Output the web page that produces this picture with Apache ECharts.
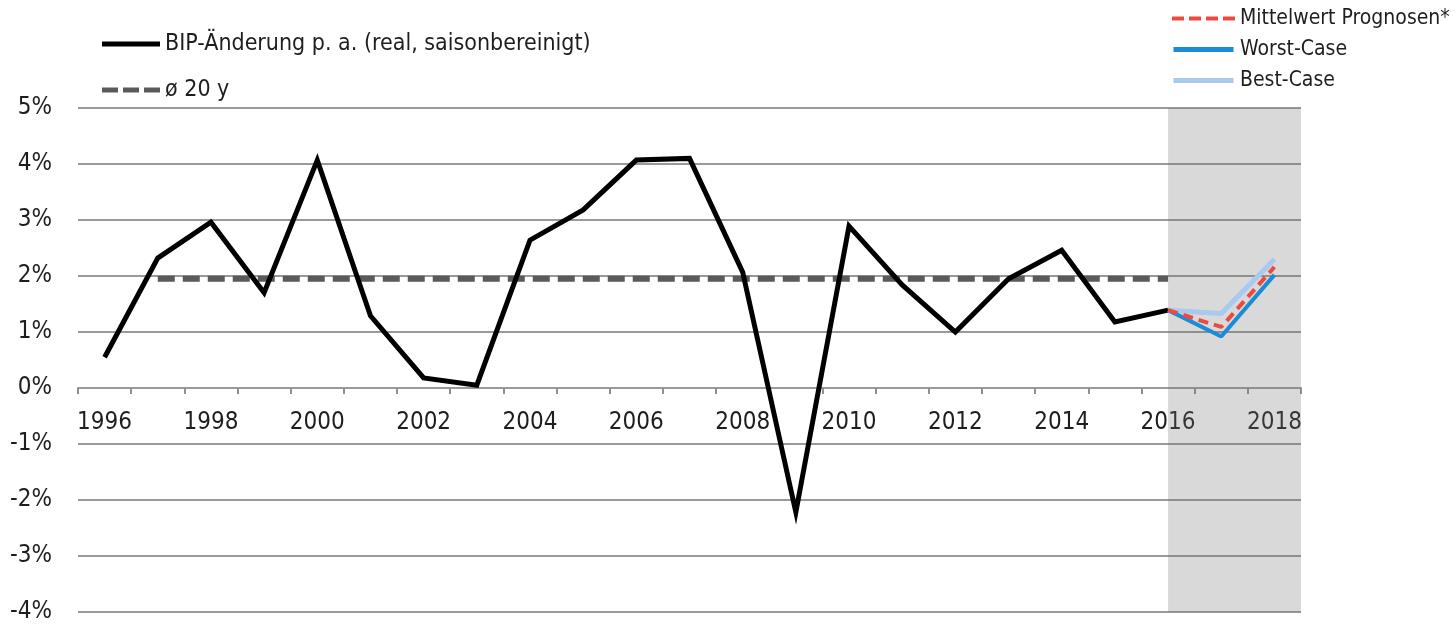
<!DOCTYPE html>
<html>
<head>
<meta charset="utf-8">
<script src="https://cdn.jsdelivr.net/npm/echarts@6/dist/echarts.min.js"></script>
<style>html,body{margin:0;padding:0;background:#fff}#c{width:1455px;height:624px}</style>
</head>
<body>
<div id="c"></div>
<script>
const years = ['1996','1997','1998','1999','2000','2001','2002','2003','2004','2005','2006','2007','2008','2009','2010','2011','2012','2013','2014','2015','2016','2017','2018'];
const gdp = [0.55, 2.32, 2.96, 1.70, 4.07, 1.29, 0.18, 0.05, 2.64, 3.18, 4.07, 4.10, 2.07, -2.22, 2.89, 1.84, 1.00, 1.95, 2.46, 1.18, 1.39];
const avg20 = [['1997', 1.95], ['2016', 1.95]];
const meanForecast = [['2016', 1.39], ['2017', 1.09], ['2018', 2.16]];
const worstCase = [['2016', 1.39], ['2017', 0.92], ['2018', 2.02]];
const bestCase = [['2016', 1.39], ['2017', 1.33], ['2018', 2.30]];
const forecastFrom = '2016';
const yTicks = { min: -4, max: 5, interval: 1 };

const FONT = '"DejaVu Sans Condensed", "Roboto", sans-serif';
const TXT = '#1e1e1e';
const GRIDC = '#999999';

const ICON_SOLID = 'path://M0,0h60v5h-60z';
const ICON_GREYDASH = 'path://M0,0h16v5h-16z M21,0h16v5h-16z M42,0h16v5h-16z';
const ICON_REDDASH = 'path://M0,0h12v4h-12z M17,0h12v4h-12z M34,0h12v4h-12z M51,0h12v4h-12z';

const W = 1455, H = 624;
const gridBox = { left: 78, right: 154, top: 108, bottom: 12, containLabel: false, outerBoundsMode: 'none' };
const gridH = H - gridBox.top - gridBox.bottom;
// place the category axis line at the zero value of the y axis
const zeroOffset = -gridH * (0 - yTicks.min) / (yTicks.max - yTicks.min);

const chart = echarts.init(document.getElementById('c'), null, { renderer: 'canvas', width: W, height: H });
const fIdx = years.indexOf(forecastFrom) + 0.5;

chart.setOption({
  animation: false,
  backgroundColor: '#ffffff',
  textStyle: { fontFamily: FONT },
  grid: [Object.assign({}, gridBox), Object.assign({}, gridBox)],
  legend: [
    {
      orient: 'vertical', left: 97, top: 26, itemWidth: 58, itemHeight: 5, itemGap: 20,
      textStyle: { fontFamily: FONT, fontSize: 23, color: TXT, lineHeight: 26 },
      data: [
        { name: 'BIP-Änderung p. a. (real, saisonbereinigt)', icon: ICON_SOLID },
        { name: 'ø 20 y', icon: ICON_GREYDASH }
      ]
    },
    {
      orient: 'vertical', left: 1167, top: 1, itemWidth: 63, itemHeight: 5, itemGap: 6,
      textStyle: { fontFamily: FONT, fontSize: 21, color: TXT, lineHeight: 25 },
      data: [
        { name: 'Mittelwert Prognosen*', icon: ICON_REDDASH },
        { name: 'Worst-Case', icon: ICON_SOLID },
        { name: 'Best-Case', icon: ICON_SOLID }
      ]
    }
  ],
  xAxis: [
    {
      gridIndex: 0, type: 'category', data: years, boundaryGap: true, position: 'bottom',
      offset: zeroOffset,
      axisLine: { onZero: false, lineStyle: { color: GRIDC, width: 2 } },
      axisTick: { show: true, inside: false, interval: 0, alignWithLabel: false, length: 6,
        lineStyle: { color: '#8f8f8f', width: 2 } },
      axisLabel: { interval: 1, margin: 23, fontFamily: FONT, fontSize: 24, color: TXT },
      splitLine: { show: false }
    },
    { gridIndex: 1, type: 'value', min: 0, max: years.length, show: false }
  ],
  yAxis: [
    {
      gridIndex: 0, type: 'value', min: yTicks.min, max: yTicks.max, interval: yTicks.interval,
      axisLine: { show: false }, axisTick: { show: false },
      axisLabel: { formatter: '{value}%', margin: 26, fontFamily: FONT, fontSize: 24, color: TXT },
      splitLine: { lineStyle: { color: GRIDC, width: 2 } }
    },
    { gridIndex: 1, type: 'value', min: yTicks.min, max: yTicks.max, show: false }
  ],
  series: [
    {
      name: 'forecastArea', type: 'line', xAxisIndex: 1, yAxisIndex: 1, data: [], silent: true,
      markArea: { silent: true, itemStyle: { color: 'rgba(120,120,120,0.28)' },
        data: [[{ xAxis: fIdx }, { xAxis: years.length }]] }
    },
    {
      name: 'ø 20 y', type: 'line', data: avg20, symbol: 'none',
      lineStyle: { color: '#5a5a5a', width: 6, type: [17, 8] },
      itemStyle: { color: '#5a5a5a' }
    },
    {
      name: 'BIP-Änderung p. a. (real, saisonbereinigt)', type: 'line', data: gdp, symbol: 'none',
      lineStyle: { color: '#000000', width: 5, join: 'miter' },
      itemStyle: { color: '#000000' }
    },
    {
      name: 'Best-Case', type: 'line', data: bestCase, symbol: 'none',
      lineStyle: { color: '#a9c9ee', width: 5 }, itemStyle: { color: '#a9c9ee' }
    },
    {
      name: 'Worst-Case', type: 'line', data: worstCase, symbol: 'none',
      lineStyle: { color: '#1b8bd6', width: 4 }, itemStyle: { color: '#1b8bd6' }
    },
    {
      name: 'Mittelwert Prognosen*', type: 'line', data: meanForecast, symbol: 'none',
      lineStyle: { color: '#ec4a3f', width: 4, type: [10, 6] }, itemStyle: { color: '#ec4a3f' }
    }
  ]
});
</script>
</body>
</html>
